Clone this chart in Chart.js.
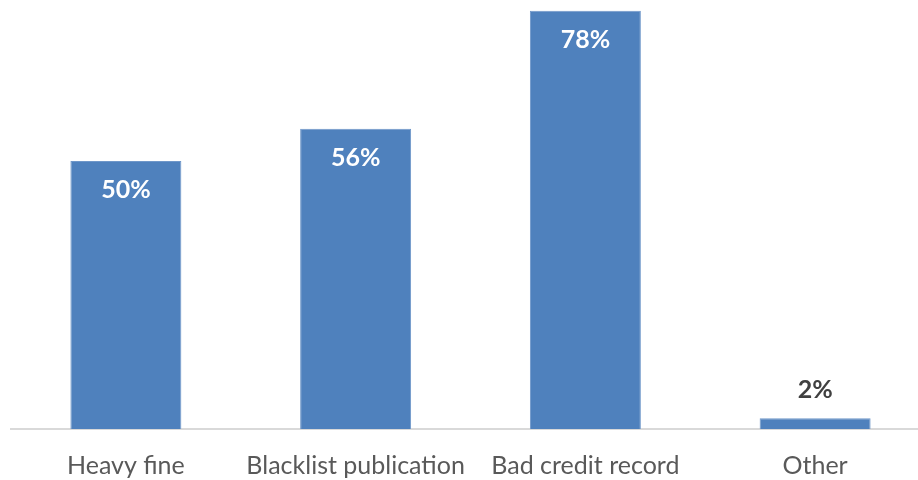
<!DOCTYPE html>
<html>
<head>
<meta charset="utf-8">
<script src="https://cdn.jsdelivr.net/npm/chart.js@4/dist/chart.umd.min.js"></script>
<style>
  html, body { margin: 0; padding: 0; background: #fff; overflow: hidden; }
  #wrap { width: 930px; height: 503px; position: relative; }
</style>
</head>
<body>
<div id="wrap"><canvas id="barChart"></canvas></div>
<script>
const categories = ['Heavy fine', 'Blacklist publication', 'Bad credit record', 'Other'];
const shares = [50, 56, 78, 2];

// draw the % labels on the bars (inside when tall, above when tiny)
const valueLabels = {
  id: 'valueLabels',
  afterDatasetsDraw(chart) {
    const ctx = chart.ctx;
    const meta = chart.getDatasetMeta(0);
    ctx.save();
    ctx.font = 'bold 25px Lato';
    ctx.textAlign = 'center';
    ctx.textBaseline = 'middle';
    meta.data.forEach((bar, i) => {
      const v = shares[i];
      if (v > 10) {
        ctx.fillStyle = '#ffffff';
        ctx.fillText(v + '%', bar.x, bar.y + 29);
      } else {
        ctx.fillStyle = '#404040';
        ctx.fillText(v + '%', bar.x, bar.y - 28);
      }
    });
    ctx.restore();
  }
};

const ctx = document.getElementById('barChart').getContext('2d');
new Chart(ctx, {
  type: 'bar',
  data: {
    labels: categories,
    datasets: [{
      data: shares,
      backgroundColor: '#4f81bd',
      borderColor: '#6f97c9',
      borderWidth: 1,
      borderSkipped: 'bottom',
      categoryPercentage: 0.483,
      barPercentage: 1
    }]
  },
  options: {
    responsive: true,
    maintainAspectRatio: false,
    animation: false,
    layout: { padding: { left: 11, top: 0, right: 0, bottom: 0 } },
    plugins: {
      legend: { display: false },
      tooltip: { enabled: false }
    },
    scales: {
      x: {
        grid: { display: false, drawTicks: false },
        border: { display: true, color: '#d9d9d9', width: 2 },
        ticks: {
          color: '#595959',
          font: { family: 'Lato', size: 25 },
          padding: 22,
          maxRotation: 0,
          autoSkip: false
        }
      },
      y: {
        display: false,
        min: 0,
        max: 80
      }
    }
  },
  plugins: [valueLabels]
});
</script>
</body>
</html>
